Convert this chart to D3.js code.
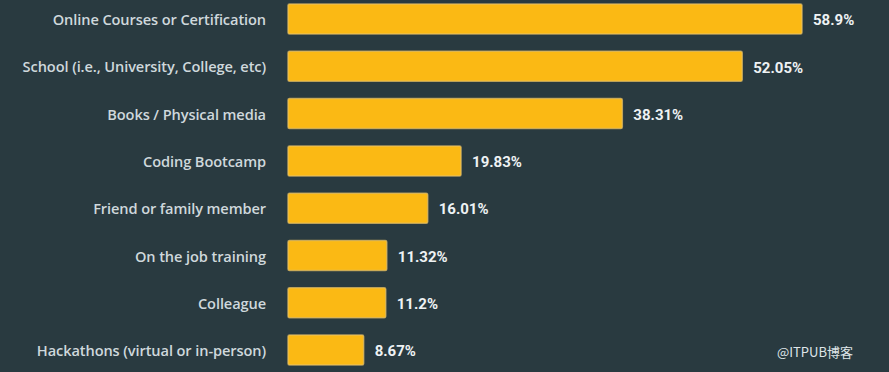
<!DOCTYPE html>
<html>
<head>
<meta charset="utf-8">
<script src="https://cdn.jsdelivr.net/npm/d3@7"></script>
<style>
  body { margin: 0; background: #293a40; }
  svg { display: block; }
</style>
</head>
<body>
<svg id="chart"></svg>
<script>
const categories = [
    "Online Courses or Certification",
    "School (i.e., University, College, etc)",
    "Books / Physical media",
    "Coding Bootcamp",
    "Friend or family member",
    "On the job training",
    "Colleague",
    "Hackathons (virtual or in-person)"
];
const values = [58.9, 52.05, 38.31, 19.83, 16.01, 11.32, 11.2, 8.67];
const valueLabels = ["58.9%", "52.05%", "38.31%", "19.83%", "16.01%", "11.32%", "11.2%", "8.67%"];

const svgWidth = 889, svgHeight = 372;

const data = categories.map((c, i) => ({cat: c, value: values[i], label: valueLabels[i]}));

const svg = d3.select("#chart")
    .attr("width", svgWidth)
    .attr("height", svgHeight);

svg.append("rect")
    .attr("width", svgWidth)
    .attr("height", svgHeight)
    .attr("fill", "#293a40");

const x = d3.scaleLinear()
    .domain([0, 58.9])
    .range([288, 802]);

const y = d3.scaleBand()
    .domain(categories)
    .range([-13.3, 382.4])
    .padding(0.366);

// bars
svg.selectAll("rect.bar")
    .data(data)
    .enter()
    .append("rect")
    .attr("class", "bar")
    .attr("x", x(0))
    .attr("y", d => y(d.cat))
    .attr("width", d => x(d.value) - x(0))
    .attr("height", y.bandwidth())
    .attr("rx", 1.5)
    .attr("fill", "#fbb914")
    .attr("stroke", "#e6c168")
    .attr("stroke-opacity", 0.7)
    .attr("stroke-width", 1.5);

// category labels
svg.selectAll("text.cat")
    .data(data)
    .enter()
    .append("text")
    .attr("class", "cat")
    .attr("x", 266)
    .attr("y", d => y(d.cat) + y.bandwidth() / 2 + 1)
    .attr("dy", "0.35em")
    .attr("text-anchor", "end")
    .attr("fill", "#cfd8dc")
    .style("font-family", "'Open Sans', sans-serif")
    .style("font-weight", 600)
    .style("font-size", "14.6px")
    .style("letter-spacing", "-0.1px")
    .text(d => d.cat);

// value labels
svg.selectAll("text.val")
    .data(data)
    .enter()
    .append("text")
    .attr("class", "val")
    .attr("x", d => x(d.value) + 11)
    .attr("y", d => y(d.cat) + y.bandwidth() / 2 + 1)
    .attr("dy", "0.35em")
    .attr("fill", "#eef2f4")
    .style("font-family", "Roboto, sans-serif")
    .style("font-weight", 700)
    .style("font-size", "15px")
    .style("letter-spacing", "0px")
    .text(d => d.label);

// watermark
svg.append("text")
    .attr("x", 853)
    .attr("y", 357)
    .attr("text-anchor", "end")
    .attr("fill", "#dfe5e8")
    .style("font-family", "'Noto Sans CJK SC', sans-serif")
    .style("font-size", "13px")
    .text("@ITPUB博客");
</script>
</body>
</html>
